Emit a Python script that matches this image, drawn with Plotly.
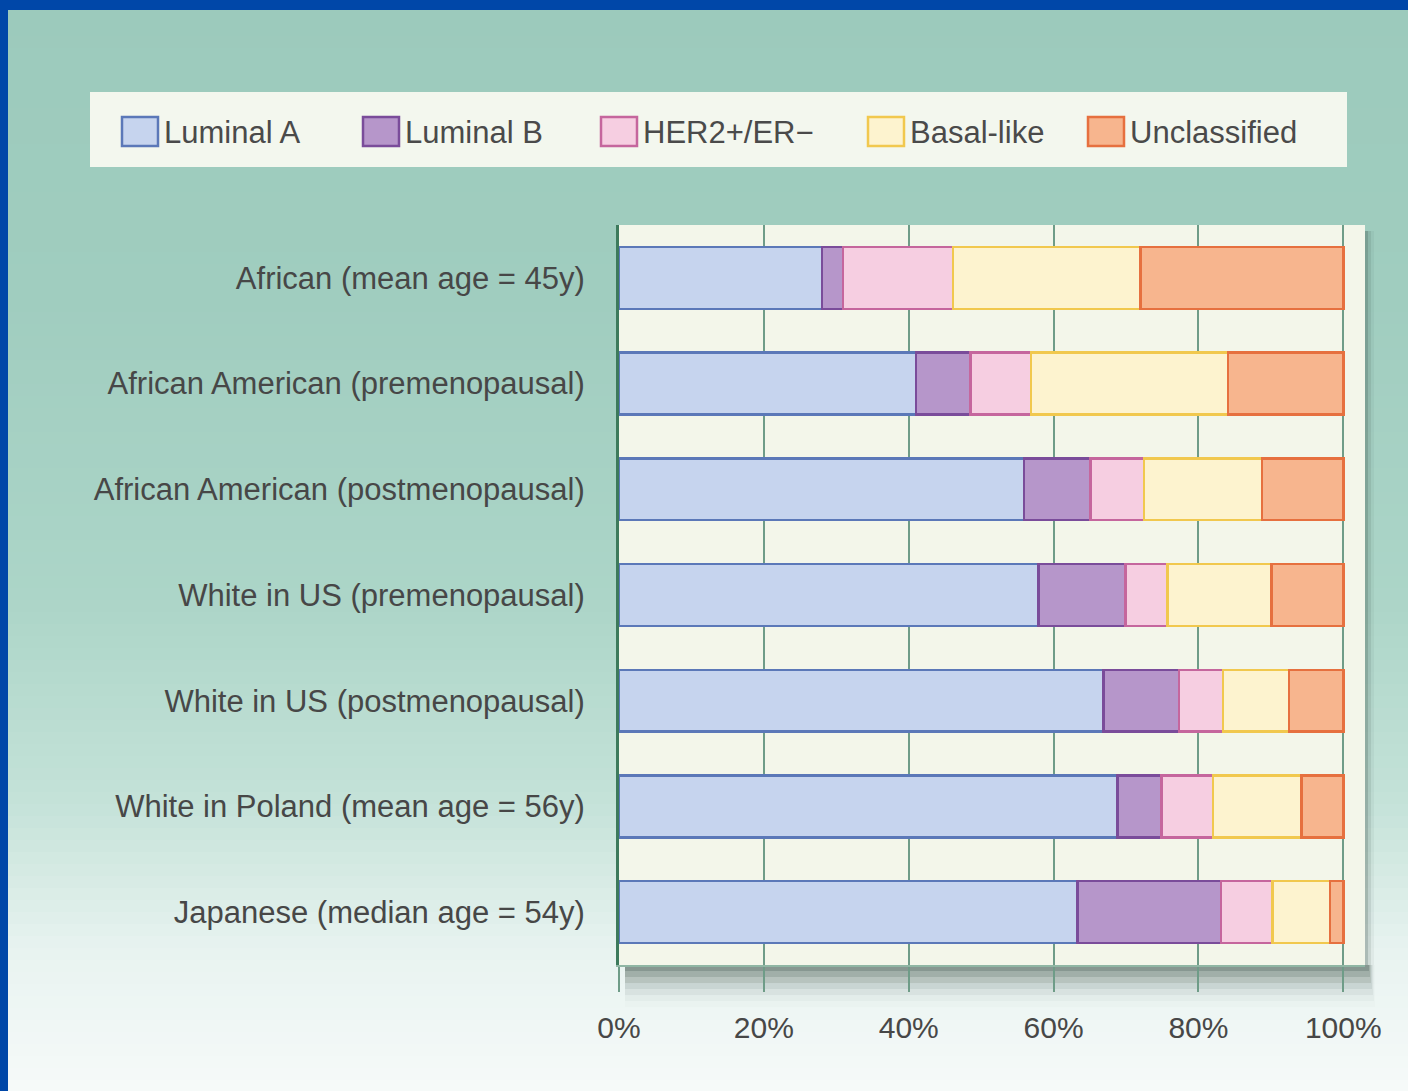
import plotly.graph_objects as go

# ---------------- data ----------------
groups = [
    "African (mean age = 45y)",
    "African American (premenopausal)",
    "African American (postmenopausal)",
    "White in US (premenopausal)",
    "White in US (postmenopausal)",
    "White in Poland (mean age = 56y)",
    "Japanese (median age = 54y)",
]
subtypes = ["Luminal A", "Luminal B", "HER2+/ER\u2212", "Basal-like", "Unclassified"]
luminal_a = [28.0, 41.0, 55.9, 57.9, 66.9, 68.8, 63.3]
luminal_b = [2.9, 7.5, 9.2, 12.0, 10.4, 6.1, 19.8]
her2_er_neg = [15.2, 8.4, 7.4, 5.8, 6.1, 7.1, 7.1]
basal_like = [25.9, 27.2, 16.3, 14.4, 9.1, 12.2, 8.0]
unclassified = [28.0, 15.9, 11.2, 9.9, 7.5, 5.8, 1.8]
series_values = [luminal_a, luminal_b, her2_er_neg, basal_like, unclassified]
x_tick_vals = [0, 20, 40, 60, 80, 100]
x_tick_text = ["0%", "20%", "40%", "60%", "80%", "100%"]

fills = ["#c6d4ee", "#b696ca", "#f6cee1", "#fdf3cf", "#f7b58e"]
edges = ["#5b78b8", "#7a4c9a", "#c5669d", "#f1c84e", "#e6703f"]

# ---------------- geometry (pixels) ----------------
W, H = 1408, 1091
PL, PR, PT, PB = 619, 1365, 225, 965   # plot area edges
pw, ph = PR - PL, PB - PT
FONT = "Liberation Sans, Arial, Helvetica, sans-serif"


def px(x):
    return (x - PL) / pw


def py(y):
    return (PB - y) / ph


fig = go.Figure()
for name, vals, fc, ec in zip(subtypes, series_values, fills, edges):
    fig.add_trace(go.Bar(
        y=groups, x=vals, name=name, orientation="h",
        marker=dict(color=fc, line=dict(color=ec, width=2.5)),
        width=0.585, showlegend=False,
    ))

shapes = []
# background gradient (teal -> white)
stops = [(0, (156, 202, 188)), (300, (160, 205, 191)), (600, (172, 213, 200)),
         (800, (196, 226, 216)), (950, (232, 243, 240)), (1091, (246, 250, 249))]


def col_at(y):
    for (y0, c0), (y1, c1) in zip(stops[:-1], stops[1:]):
        if y0 <= y <= y1:
            t = (y - y0) / (y1 - y0)
            return tuple(round(a + (b - a) * t) for a, b in zip(c0, c1))
    return stops[-1][1]


step = 12
for y in range(0, H, step):
    c = col_at(y + step / 2)
    shapes.append(dict(type="rect", xref="paper", yref="paper", layer="below",
                       x0=px(0), x1=px(W), y0=py(y), y1=py(min(y + step + 1, H)),
                       fillcolor="rgb(%d,%d,%d)" % c, line=dict(width=0)))

# shadow under / right of plot area
for i, a in enumerate([0.20, 0.15, 0.11, 0.08, 0.05, 0.03, 0.015]):
    shapes.append(dict(type="rect", xref="paper", yref="paper", layer="below",
                       x0=px(PL + 6), x1=px(PR + 4 + i), y0=py(PB + 6 * (i + 1)), y1=py(PB),
                       fillcolor="rgba(40,60,50,%f)" % a, line=dict(width=0)))
for i, a in enumerate([0.18, 0.10, 0.05]):
    shapes.append(dict(type="rect", xref="paper", yref="paper", layer="below",
                       x0=px(PR), x1=px(PR + 3 * (i + 1)), y0=py(PB), y1=py(PT + 6),
                       fillcolor="rgba(40,60,50,%f)" % a, line=dict(width=0)))

# plot area background
shapes.append(dict(type="rect", xref="paper", yref="paper", layer="below",
                   x0=0, x1=1, y0=0, y1=1, fillcolor="#f3f6ea", line=dict(width=0)))

# blue frame (top and left)
shapes.append(dict(type="rect", xref="paper", yref="paper", layer="above",
                   x0=px(0), x1=px(W), y0=py(10), y1=py(0), fillcolor="#0047a8", line=dict(width=0)))
shapes.append(dict(type="rect", xref="paper", yref="paper", layer="above",
                   x0=px(0), x1=px(8), y0=py(H), y1=py(0), fillcolor="#0047a8", line=dict(width=0)))

# legend box
shapes.append(dict(type="rect", xref="paper", yref="paper", layer="above",
                   x0=px(90), x1=px(1347), y0=py(167), y1=py(92),
                   fillcolor="#f3f7ee", line=dict(width=0)))

annotations = []
sw_x = [122, 363, 601, 868, 1088]
for name, fc, ec, sx in zip(subtypes, fills, edges, sw_x):
    shapes.append(dict(type="rect", xref="paper", yref="paper", layer="above",
                       x0=px(sx), x1=px(sx + 36), y0=py(146), y1=py(117),
                       fillcolor=fc, line=dict(color=ec, width=2.5)))
    annotations.append(dict(xref="paper", yref="paper", x=px(sx + 40), y=py(132),
                            text=name, showarrow=False, xanchor="left", yanchor="middle",
                            font=dict(family=FONT, size=31, color="#4a4a4a")))

fig.update_layout(
    width=W, height=H,
    margin=dict(l=PL, r=W - PR, t=PT, b=H - PB, pad=0),
    barmode="stack", bargap=0.415,
    paper_bgcolor="#f6faf9", plot_bgcolor="rgba(0,0,0,0)",
    shapes=shapes, annotations=annotations,
    font=dict(family=FONT, size=30, color="#474747"),
    xaxis=dict(range=[0, 103], tickmode="array", tickvals=x_tick_vals, ticktext=x_tick_text,
               showgrid=True, gridcolor="#6f9c88", gridwidth=2, zeroline=False,
               ticks="outside", ticklen=25, tickwidth=2, tickcolor="#6f9c88",
               showline=True, linecolor="#8fb6a4", linewidth=2,
               ticklabelstandoff=10, tickfont=dict(family=FONT, size=30, color="#474747")),
    yaxis=dict(autorange="reversed", showgrid=False, zeroline=False,
               showline=True, linecolor="#3d7a5c", linewidth=3,
               ticks="", ticklabelstandoff=25, tickfont=dict(family=FONT, size=31, color="#474747")),
)

fig.write_html("out.html")
